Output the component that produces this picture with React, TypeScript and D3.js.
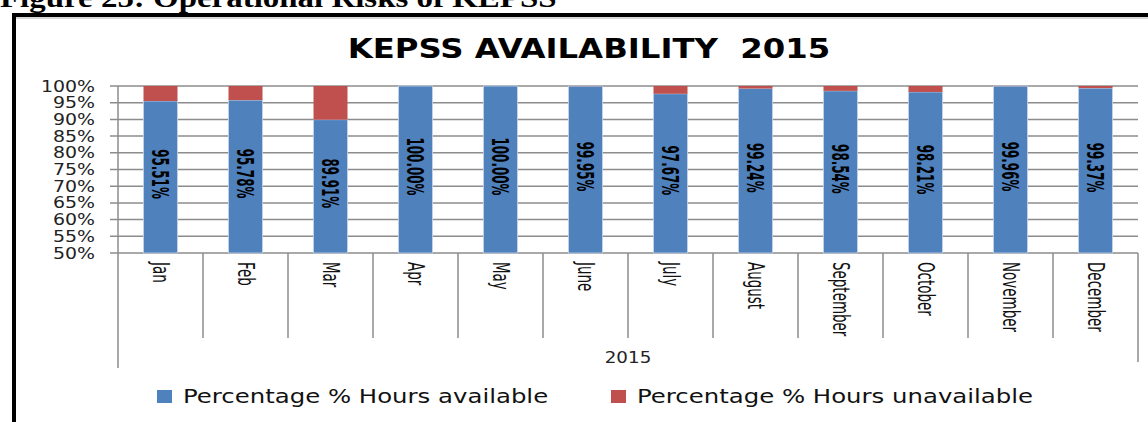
import React, { useEffect, useRef } from "react";
import * as d3 from "d3";

const months = ["Jan", "Feb", "Mar", "Apr", "May", "June", "July", "August", "September", "October", "November", "December"];
const available = [95.51, 95.78, 89.91, 100.0, 100.0, 99.95, 97.67, 99.24, 98.54, 98.21, 99.96, 99.37];
const unavailable = [4.49, 4.22, 10.09, 0.0, 0.0, 0.05, 2.33, 0.76, 1.46, 1.79, 0.04, 0.63];
const yTicks = [50, 55, 60, 65, 70, 75, 80, 85, 90, 95, 100];
const seriesNames = ["Percentage % Hours available", "Percentage % Hours unavailable"];
const colors = ["#4F81BD", "#C0504D"];

const W = 1148;
const H = 422;
const SX = 1.22; // the picture is a little stretched sideways

const App: React.FC = () => {
  const svgRef = useRef<SVGSVGElement | null>(null);

  useEffect(() => {
    const svg = d3.select(svgRef.current);
    svg.selectAll("*").remove();

    const left = 118, right = 1138, top = 86, bottom = 253;
    const sans = "'DejaVu Sans', Verdana, sans-serif";
    const narrow = "'Liberation Sans Narrow', 'Arial Narrow', 'DejaVu Sans Condensed', sans-serif";

    const x = d3.scaleBand<string>().domain(months).range([left, right]).paddingInner(0.6).paddingOuter(0.3);
    const y = d3.scaleLinear().domain([50, 100]).range([bottom, top]).clamp(true);

    // caption (cut off at top) and frame
    svg.append("text")
      .attr("transform", `translate(0,7) scale(${SX},1)`)
      .attr("font-family", "'Liberation Serif', 'Times New Roman', serif")
      .attr("font-weight", "bold")
      .attr("font-size", 27)
      .text("Figure 25: Operational Risks of KEPSS");

    svg.append("line").attr("x1", 12).attr("x2", W).attr("y1", 15).attr("y2", 15)
      .attr("stroke", "#000").attr("stroke-width", 4);
    svg.append("line").attr("x1", 14).attr("x2", 14).attr("y1", 13).attr("y2", H)
      .attr("stroke", "#000").attr("stroke-width", 4);
    svg.append("line").attr("x1", 16).attr("x2", W).attr("y1", 18).attr("y2", 18)
      .attr("stroke", "#b0b0b0").attr("stroke-width", 1);

    // title
    svg.append("text")
      .attr("transform", `translate(589,58) scale(${SX},1)`)
      .attr("text-anchor", "middle")
      .attr("font-family", sans)
      .attr("font-weight", "bold")
      .attr("font-size", 26.5)
      .attr("xml:space", "preserve")
      .text("KEPSS AVAILABILITY  2015");

    // gridlines + y labels
    const grid = svg.append("g");
    yTicks.forEach(t => {
      grid.append("line")
        .attr("x1", left - 8).attr("x2", right)
        .attr("y1", y(t)).attr("y2", y(t))
        .attr("stroke", "#8c8c8c").attr("stroke-width", 1.5);
      grid.append("text")
        .attr("transform", `translate(95,${y(t) + 5.5}) scale(${SX},1)`)
        .attr("text-anchor", "end")
        .attr("font-family", sans)
        .attr("font-size", 15.5)
        .attr("fill", "#222")
        .text(`${t}%`);
    });

    // category box below the axis
    const step = x.step();
    months.forEach((m, i) => {
      const xb = left + i * step;
      grid.append("line")
        .attr("x1", xb).attr("x2", xb)
        .attr("y1", i === 0 ? top : bottom).attr("y2", i === 0 ? 368 : 338)
        .attr("stroke", "#8c8c8c").attr("stroke-width", 1.5);
    });
    grid.append("line")
      .attr("x1", right).attr("x2", right).attr("y1", bottom).attr("y2", 362)
      .attr("stroke", "#8c8c8c").attr("stroke-width", 1.5);

    // bars
    const bars = svg.append("g");
    months.forEach((m, i) => {
      const x0 = x(m) || 0;
      const a = available[i];
      const u = unavailable[i];
      bars.append("rect")
        .attr("x", x0).attr("width", x.bandwidth())
        .attr("y", y(a)).attr("height", y(50) - y(a))
        .attr("fill", colors[0]).attr("stroke", "#c6d5ea").attr("stroke-width", 0.8);
      if (u > 0) {
        bars.append("rect")
          .attr("x", x0).attr("width", x.bandwidth())
          .attr("y", y(a + u)).attr("height", y(a) - y(a + u))
          .attr("fill", colors[1]);
      }
      const cx = x0 + x.bandwidth() / 2;
      const cy = (y(50) + y(a)) / 2 - 3;
      bars.append("text")
        .attr("transform", `translate(${cx},${cy}) scale(${SX},1) rotate(90) scale(0.68,1)`)
        .attr("text-anchor", "middle")
        .attr("dominant-baseline", "central")
        .attr("font-family", narrow)
        .attr("font-weight", "bold")
        .attr("font-size", 19.5)
        .text(`${a.toFixed(2)}%`);

      svg.append("text")
        .attr("transform", `translate(${cx},262) scale(${SX},1) rotate(90) scale(0.8,1)`)
        .attr("text-anchor", "start")
        .attr("dominant-baseline", "central")
        .attr("font-family", narrow)
        .attr("font-size", 18.7)
        .attr("fill", "#111")
        .text(m);
    });

    svg.append("text")
      .attr("transform", `translate(628,363) scale(${SX},1)`)
      .attr("text-anchor", "middle")
      .attr("font-family", sans)
      .attr("font-size", 15)
      .attr("fill", "#222")
      .text("2015");

    // legend
    const legendX = [157, 611];
    seriesNames.forEach((name, i) => {
      const g = svg.append("g");
      g.append("rect").attr("x", legendX[i]).attr("y", 390).attr("width", 15).attr("height", 13).attr("fill", colors[i]);
      g.append("text")
        .attr("transform", `translate(${legendX[i] + 26},403) scale(${SX},1)`)
        .attr("font-family", sans)
        .attr("font-size", 20)
        .attr("fill", "#111")
        .text(name);
    });
  }, []);

  return (
    <svg ref={svgRef} width={W} height={H} style={{ position: "absolute", left: 0, top: 0, background: "#fff" }} />
  );
};

export default App;
